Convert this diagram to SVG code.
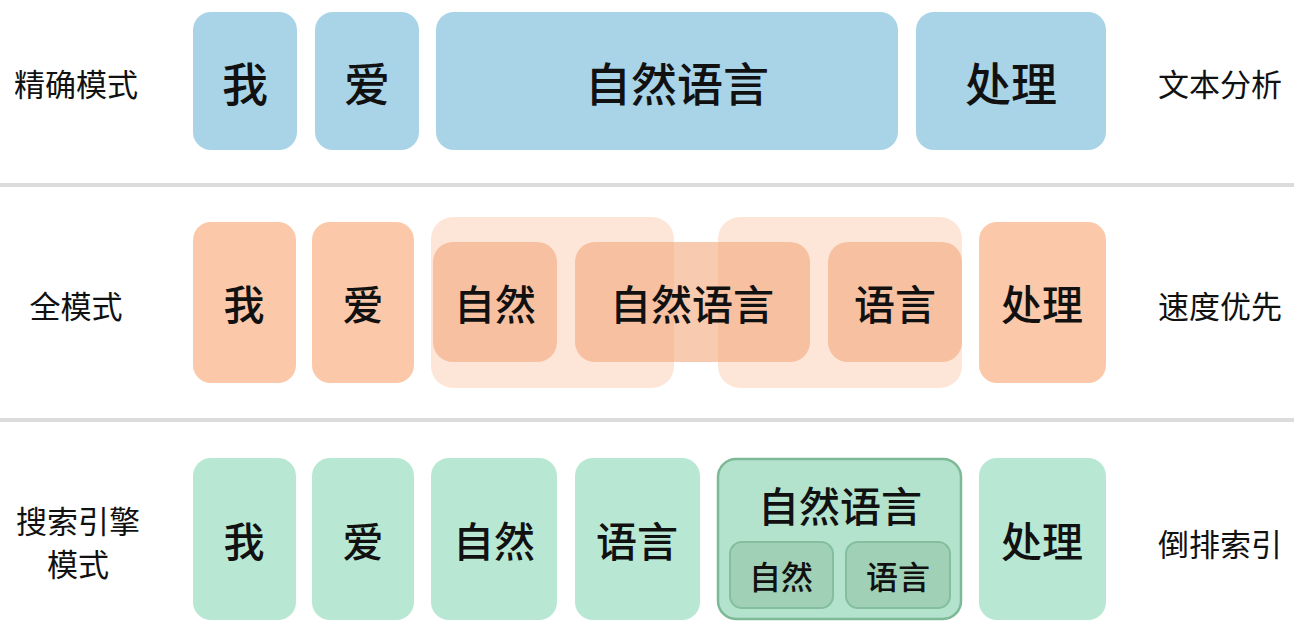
<svg xmlns="http://www.w3.org/2000/svg" width="1294" height="631" viewBox="0 0 1294 631">
<style>
text{font-family:"Noto Sans CJK SC",sans-serif;text-anchor:middle;dominant-baseline:central;fill:#111}
.lab{font-size:31px}
.big{font-size:46px;font-weight:500}
.mid{font-size:41px;font-weight:500}
.sm{font-size:32px;font-weight:500}
.b{fill:#a9d4e8}
.o{fill:#fbc9a9}
.ot{fill:#f9b78f;opacity:0.35}
.oi{fill:#f3a77c;opacity:0.6}
.g{fill:#b8e8d4}
.gb{fill:#b3e3cc;stroke:#7db897;stroke-width:2.5}
.gi{fill:#9dcfb3;stroke:#7db897;stroke-width:2;opacity:0.85}
</style>
<rect width="1294" height="631" fill="#fff"/>
<g id="separators">
<rect x="0" y="183" width="1294" height="4" fill="#dcdcdc"/>
<rect x="0" y="418" width="1294" height="4" fill="#dcdcdc"/>
</g>
<g id="labels">
<text class="lab" x="76" y="82">精确模式</text>
<text class="lab" x="76" y="304">全模式</text>
<text class="lab" x="78" y="519">搜索引擎</text>
<text class="lab" x="78" y="562">模式</text>
<text class="lab" x="1220" y="82">文本分析</text>
<text class="lab" x="1220" y="304">速度优先</text>
<text class="lab" x="1220" y="542">倒排索引</text>
</g>
<g id="row1">
<g id="r1-wo"><rect class="b" x="193" y="12" width="104" height="138" rx="18"/><text class="big" x="245" y="81">我</text></g>
<g id="r1-ai"><rect class="b" x="315" y="12" width="104" height="138" rx="18"/><text class="big" x="367" y="81">爱</text></g>
<g id="r1-nl"><rect class="b" x="436" y="12" width="462" height="138" rx="18"/><text class="big" x="677" y="81">自然语言</text></g>
<g id="r1-cl"><rect class="b" x="916" y="12" width="190" height="138" rx="18"/><text class="big" x="1011" y="81">处理</text></g>
</g>
<g id="row2">
<g id="r2-wo"><rect class="o" x="193" y="222" width="103" height="161" rx="18"/><text class="mid" x="244" y="302">我</text></g>
<g id="r2-ai"><rect class="o" x="312" y="222" width="102" height="161" rx="18"/><text class="mid" x="363" y="302">爱</text></g>
<g id="r2-grp1"><rect class="ot" x="431" y="217" width="243" height="171" rx="22"/></g>
<g id="r2-grp2"><rect class="ot" x="718" y="217" width="244" height="171" rx="22"/></g>
<g id="r2-zr"><rect class="oi" x="433" y="242" width="124" height="120" rx="20"/><text class="mid" x="495" y="302">自然</text></g>
<g id="r2-nl"><rect class="oi" x="575" y="242" width="235" height="120" rx="20"/><text class="mid" x="692" y="302">自然语言</text></g>
<g id="r2-yy"><rect class="oi" x="828" y="242" width="134" height="120" rx="20"/><text class="mid" x="895" y="302">语言</text></g>
<g id="r2-cl"><rect class="o" x="979" y="222" width="127" height="161" rx="18"/><text class="mid" x="1042" y="302">处理</text></g>
</g>
<g id="row3">
<g id="r3-wo"><rect class="g" x="193" y="458" width="103" height="162" rx="18"/><text class="mid" x="244" y="539">我</text></g>
<g id="r3-ai"><rect class="g" x="312" y="458" width="102" height="162" rx="18"/><text class="mid" x="363" y="539">爱</text></g>
<g id="r3-zr"><rect class="g" x="431" y="458" width="126" height="162" rx="18"/><text class="mid" x="494" y="539">自然</text></g>
<g id="r3-yy"><rect class="g" x="575" y="458" width="125" height="162" rx="18"/><text class="mid" x="637" y="539">语言</text></g>
<g id="r3-nl"><rect class="gb" x="718" y="459" width="243" height="160" rx="18"/><text class="mid" x="840" y="504">自然语言</text>
<g id="r3-nl-zr"><rect class="gi" x="730" y="542" width="103" height="66" rx="12"/><text class="sm" x="781" y="575">自然</text></g>
<g id="r3-nl-yy"><rect class="gi" x="846" y="542" width="104" height="66" rx="12"/><text class="sm" x="898" y="575">语言</text></g>
</g>
<g id="r3-cl"><rect class="g" x="979" y="458" width="127" height="162" rx="18"/><text class="mid" x="1042" y="539">处理</text></g>
</g>
<g id="connectors"/>
</svg>
